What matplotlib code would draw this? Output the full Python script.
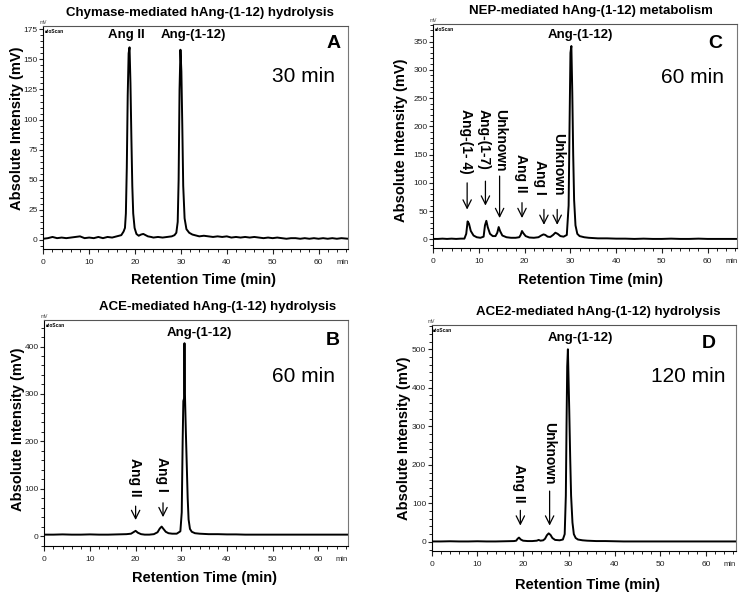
import matplotlib
matplotlib.use("Agg")
import matplotlib.pyplot as plt
from matplotlib.ticker import MultipleLocator
import matplotlib.transforms as mtrans

plt.rcParams['font.family'] = ['Liberation Sans', 'DejaVu Sans']

# ---- panel A : chymase, 30 min ----
time_a = [0, 1, 2, 3, 4, 5, 6, 7, 8, 9, 10, 11, 12, 13, 14, 15, 16, 17, 17.5, 17.8,
          18.0, 18.2, 18.4, 18.6, 18.8, 19.0, 19.2, 19.4, 19.6, 19.9, 20.3, 20.8, 21.3, 21.8,
          22.3, 22.8, 23.5, 24, 25, 26, 27, 28, 28.6, 29.0, 29.3, 29.5, 29.7, 29.9, 30.1,
          30.3, 30.5, 30.8, 31.2, 31.8, 32.5, 33, 34, 35, 36, 37, 38, 39, 40, 41, 42, 43,
          44, 45, 46, 47, 48, 49, 50, 51, 52, 53, 54, 55, 56, 57, 58, 59, 60, 61, 62, 63,
          64, 65, 66.5]
signal_a = [1, 1.5, 2.5, 1.5, 2, 1.5, 2, 2.5, 3, 1.5, 2, 1.5, 2.5, 1.5, 2.5, 2, 3, 4, 7, 10,
            22, 60, 120, 155, 160, 130, 85, 45, 22, 10, 5, 3.5, 4.5, 5,
            4, 3, 2.5, 2, 2.5, 2, 2.5, 3, 4, 6, 15, 50, 125, 158, 140,
            95, 45, 18, 9, 6, 4.5, 4, 3, 3.5, 3, 2.5, 3, 2.5, 3, 2, 2.5, 2,
            2.5, 2, 2.5, 2, 1.5, 2, 1.5, 2, 1.5, 1, 1.5, 1.5, 1, 1.5, 1, 1.5, 1, 1.5, 1, 1.5,
            1, 1.5, 1]

# ---- panel C : NEP, 60 min ----
time_c = [0, 1, 2, 3, 4, 5, 6, 6.8, 7.2, 7.5, 7.8, 8.2, 8.8, 9.5, 10.3, 11.0, 11.3, 11.6,
          11.9, 12.4, 13.0, 13.6, 14.0, 14.3, 14.6, 15.1, 16, 17, 18, 18.8, 19.1, 19.4, 19.7,
          20.2, 21, 22, 23, 23.6, 24.1, 24.5, 25.0, 25.6, 26.2, 26.7, 27.2, 27.8, 28.5, 29.2,
          29.6, 29.8, 30.0, 30.2, 30.4, 30.6, 30.8, 31.1, 31.5, 32, 33, 34, 35, 36, 38, 40,
          42, 44, 46, 48, 50, 52, 54, 56, 58, 60, 62, 64, 66.5]
signal_c = [1, 1, 1.5, 1, 1.5, 1, 1.5, 1.5, 10, 32, 28, 15, 7, 4, 3, 5, 25, 33,
            22, 10, 6, 6, 12, 22, 15, 7, 4, 3, 3, 4, 8, 15, 11,
            6, 3.5, 3, 4, 7, 9, 8, 5, 4.5, 8, 12, 10, 6, 5, 8,
            60, 200, 330, 342, 260, 150, 70, 25, 10, 6, 4, 3, 2.5, 2, 2, 1.5,
            1.5, 1, 1.5, 1, 1, 1.5, 1, 1, 1.5, 1, 1, 1, 1]

# ---- panel B : ACE, 60 min ----
time_b = [0, 2, 4, 6, 8, 10, 12, 14, 16, 18, 19.0, 19.5, 20.0, 20.5, 21.2, 22, 23, 24, 24.8,
          25.3, 25.7, 26.1, 26.6, 27.2, 28, 29, 29.8, 30.1, 30.3, 30.45, 30.6, 30.7, 30.8,
          31.0, 31.2, 31.4, 31.6, 31.9, 32.3, 33, 34, 35, 36, 38, 40, 42, 44, 46, 48, 50,
          52, 54, 56, 58, 60, 62, 64, 66.5]
signal_b = [3, 3, 3.5, 3, 3, 3.5, 3, 3, 3.5, 4, 5, 8, 11, 7, 4, 3, 3, 4, 8,
            16, 20, 15, 9, 6, 5, 5, 10, 50, 200, 285, 290, 407, 300,
            220, 150, 80, 35, 15, 9, 6, 5, 4.5, 4, 4, 3.5, 3.5, 3, 3, 3, 3,
            3, 3, 3, 3, 3, 3, 3, 3]

# ---- panel D : ACE2, 120 min ----
time_d = [0, 2, 4, 6, 8, 10, 12, 14, 16, 18, 18.5, 18.8, 19.1, 19.5, 20, 21, 22, 23, 23.4,
          23.8, 24.4, 24.8, 25.2, 25.6, 26.0, 26.4, 27, 28, 28.7, 29.1, 29.35, 29.5, 29.65,
          29.8, 29.95, 30.1, 30.3, 30.5, 30.8, 31.1, 31.5, 32, 33, 34, 36, 38, 40, 42, 44,
          46, 48, 50, 52, 54, 56, 58, 60, 62, 64, 66.5]
signal_d = [1, 1, 1.5, 1, 1, 1.5, 1, 1, 1.5, 2, 3, 8, 11, 6, 3, 2, 2, 3, 5,
            3, 4, 8, 17, 22, 18, 10, 5, 4, 6, 20, 120, 300, 455,
            500, 420, 340, 220, 120, 50, 20, 10, 6, 4, 3, 2, 2, 1.5, 1, 1,
            1, 1, 1, 1, 1, 1, 1, 1, 1, 1, 1]

titles = ['Chymase-mediated hAng-(1-12) hydrolysis', 'NEP-mediated hAng-(1-12) metabolism',
          'ACE-mediated hAng-(1-12) hydrolysis', 'ACE2-mediated hAng-(1-12) hydrolysis']
letters = ['A', 'C', 'B', 'D']
durations = ['30 min', '60 min', '60 min', '120 min']

# horizontal peak labels (text, x, y)
top_labels_a = [('Ang II', 18.0, 170), ('Ang-(1-12)', 32.7, 170)]
top_labels_c = [('Ang-(1-12)', 32.2, 362)]
top_labels_b = [('Ang-(1-12)', 34.0, 428)]
top_labels_d = [('Ang-(1-12)', 32.6, 530)]

# arrow labels (text, text x, text y, arrow x, arrow tail, arrow head)
arrow_labels_a = []
arrow_labels_c = [('Ang-(1- 4)', 7.1, 174, 7.4, 105, 48),
                  ('Ang-(1-7)', 11.1, 176, 11.4, 108, 55),
                  ('Unknown', 14.7, 176, 14.5, 117, 33),
                  ('Ang II', 19.1, 117, 19.4, 70, 33),
                  ('Ang I', 23.4, 110, 24.2, 58, 21),
                  ('Unknown', 27.3, 133, 27.1, 58, 21)]
arrow_labels_b = [('Ang II', 19.8, 125, 20.0, 69, 28),
                  ('Ang I', 25.8, 131, 26.0, 76, 34)]
arrow_labels_d = [('Ang II', 19.2, 153, 19.4, 89, 35),
                  ('Unknown', 25.8, 230, 25.8, 139, 35)]


def draw_panel(ax, t, s, ylim, ymajor, yminor, title, title_x, letter, letter_pos,
               dur, dur_pos, top_labels, arrow_labels, ylab_pos, xlab_pos):
    ax.plot(t, s, color='black', lw=1.4)
    ax.set_xlim(0, 66.5)
    ax.set_ylim(*ylim)
    ax.xaxis.set_major_locator(MultipleLocator(10))
    ax.xaxis.set_minor_locator(MultipleLocator(2))
    ax.yaxis.set_major_locator(MultipleLocator(ymajor))
    ax.yaxis.set_minor_locator(MultipleLocator(yminor))
    ax.set_xticks([0, 10, 20, 30, 40, 50, 60])
    ax.tick_params(which='major', length=3.5, width=0.8, pad=4, labelsize=6, colors='#222222')
    ax.tick_params(which='minor', length=2, width=0.6)
    ax.tick_params(axis='y', which='major', pad=1, length=3)
    for sp in ax.spines.values():
        sp.set_linewidth(0.8)
    ax.spines['right'].set_color('#777777')
    ax.spines['top'].set_color('#555555')

    ax.set_xlabel('Retention Time (min)', fontsize=10.5, fontweight='bold', va='center')
    ax.set_ylabel('Absolute Intensity (mV)', fontsize=10.5, fontweight='bold', va='center')
    ax.xaxis.set_label_coords(*xlab_pos)
    ax.yaxis.set_label_coords(*ylab_pos)

    ax.text(title_x, 1.03, title, transform=ax.transAxes, ha='center', va='bottom',
            fontsize=9.5, fontweight='bold')
    ax.text(letter_pos[0], letter_pos[1], letter, transform=ax.transAxes, ha='center',
            va='center', fontsize=14, fontweight='bold')
    ax.text(dur_pos[0], dur_pos[1], dur, transform=ax.transAxes, ha='right', va='center',
            fontsize=15)

    # small instrument markings
    ax.text(0.0, 1.005, 'mV', transform=ax.transAxes, ha='center', va='bottom', fontsize=3.5,
            color='#444444')
    ax.text(0.005, 0.985, '\u25a0ioScan', transform=ax.transAxes, ha='left', va='top',
            fontsize=3.5, fontweight='bold')
    trans = mtrans.blended_transform_factory(ax.transData, ax.transAxes)
    ax.text(65.2, -0.06, 'min', transform=trans, ha='center', va='center', fontsize=5.5,
            color='#222222')

    for txt, x, y in top_labels:
        ax.text(x, y, txt, ha='center', va='center', fontsize=9.5, fontweight='bold')
    for txt, tx, ty, ax_x, tail, head in arrow_labels:
        ax.text(tx, ty, txt, ha='center', va='center', rotation=270, fontsize=10,
                fontweight='bold')
        ax.annotate('', xy=(ax_x, head), xytext=(ax_x, tail),
                    arrowprops=dict(arrowstyle='->,head_length=0.5,head_width=0.25',
                                    lw=0.9, color='black', mutation_scale=12))


fig = plt.figure(figsize=(7.48, 6.01), dpi=100)
ax_a = fig.add_axes([0.0579, 0.5857, 0.4078, 0.3710])
ax_c = fig.add_axes([0.5793, 0.5874, 0.4064, 0.3727])
ax_b = fig.add_axes([0.0592, 0.0915, 0.4060, 0.3761])
ax_d = fig.add_axes([0.5771, 0.0837, 0.4064, 0.3755])

draw_panel(ax_a, time_a, signal_a, (-7.5, 177.7), 25, 5, titles[0], 0.512, letters[0],
           (0.95, 0.923), durations[0], (0.956, 0.775), top_labels_a, arrow_labels_a,
           (-0.087, 0.54), (0.525, -0.141))
draw_panel(ax_c, time_c, signal_c, (-15, 381), 50, 10, titles[1], 0.517, letters[1],
           (0.927, 0.915), durations[1], (0.956, 0.763), top_labels_c, arrow_labels_c,
           (-0.107, 0.482), (0.518, -0.143))
draw_panel(ax_b, time_b, signal_b, (-21, 456), 100, 20, titles[2], 0.572, letters[2],
           (0.95, 0.911), durations[2], (0.957, 0.752), top_labels_b, arrow_labels_b,
           (-0.086, 0.518), (0.529, -0.14))
draw_panel(ax_d, time_d, signal_d, (-23, 563), 100, 20, titles[3], 0.549, letters[3],
           (0.912, 0.916), durations[3], (0.968, 0.774), top_labels_d, arrow_labels_d,
           (-0.091, 0.498), (0.512, -0.152))

fig.savefig('out.png', dpi=100)
